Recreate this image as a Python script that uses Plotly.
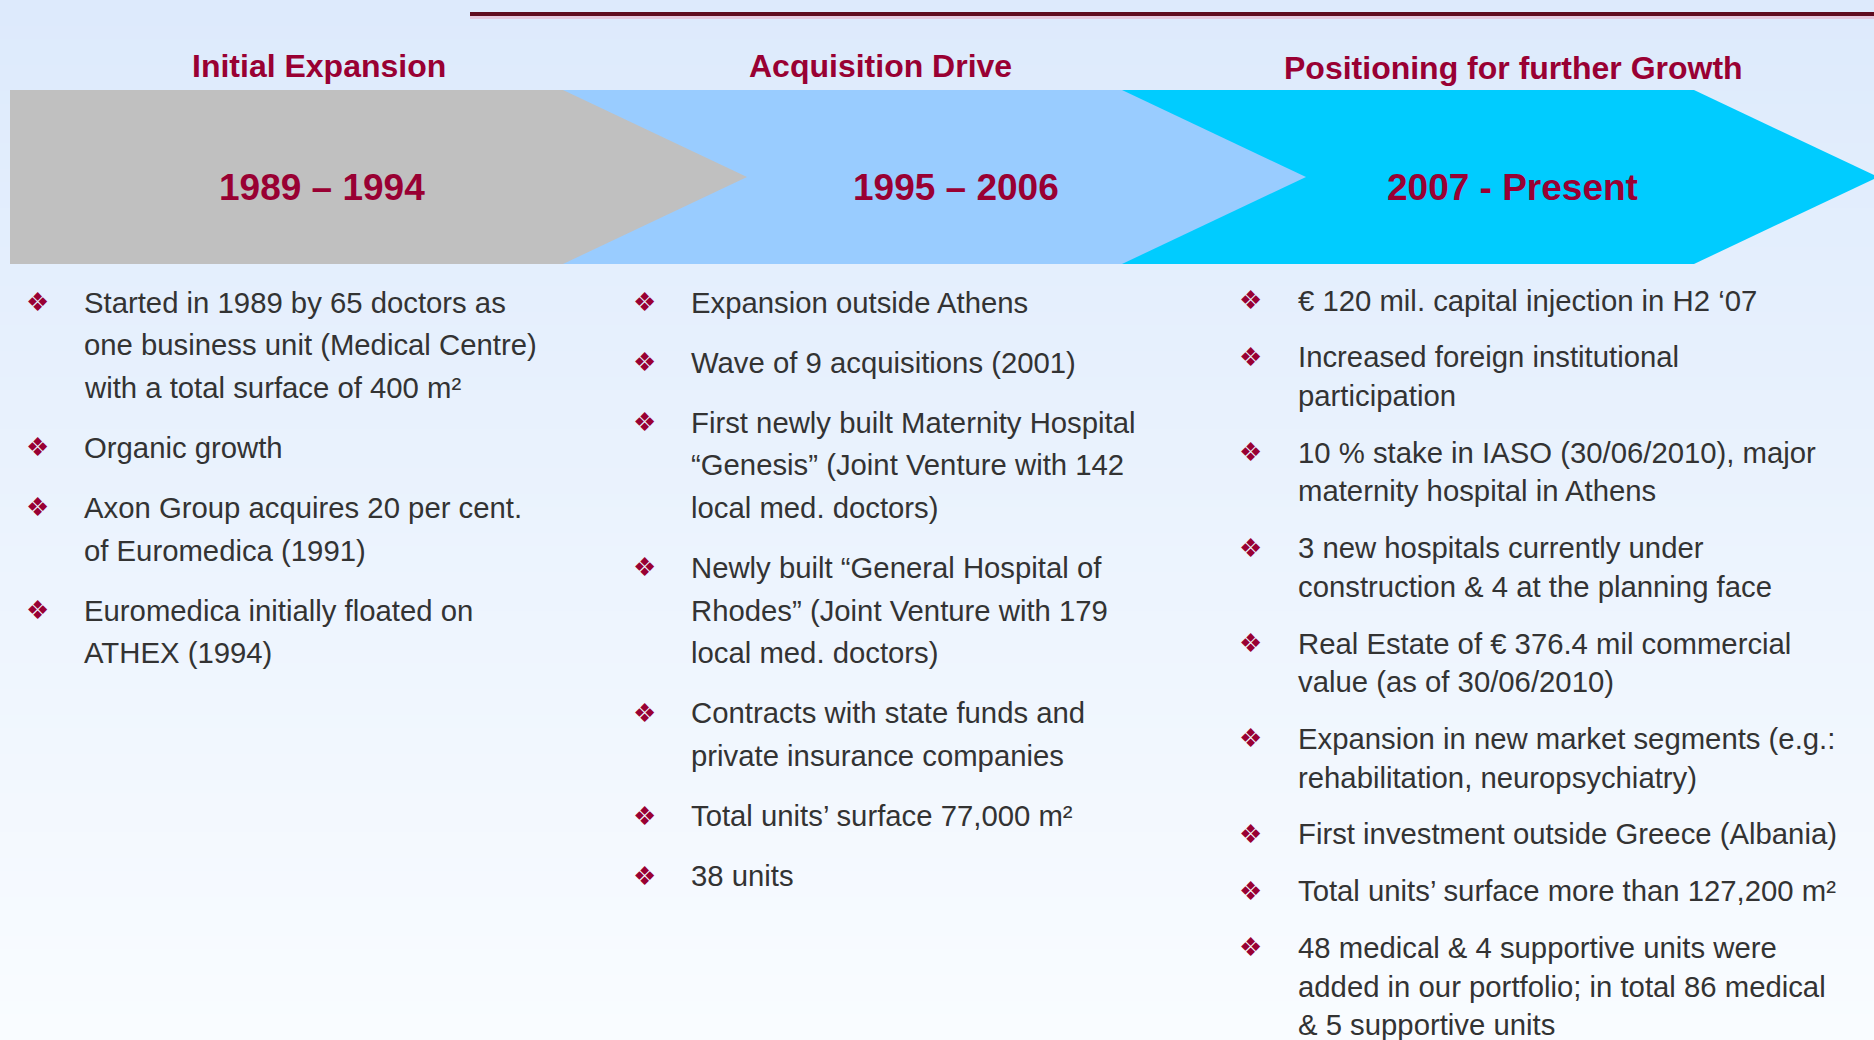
import plotly.graph_objects as go

W, H = 1874, 1040

# ---------------- content ----------------
phase_titles = ["Initial Expansion", "Acquisition Drive", "Positioning for further Growth"]
phase_years = ["1989 – 1994", "1995 – 2006", "2007 - Present"]
phase_colors = ["#C0C0C0", "#99CCFF", "#00CCFF"]

bullets_phase1 = [
    ["Started in 1989 by 65 doctors as", "one business unit (Medical Centre)", "with a total surface of 400 m²"],
    ["Organic growth"],
    ["Axon Group acquires 20 per cent.", "of Euromedica (1991)"],
    ["Euromedica initially floated on", "ATHEX (1994)"],
]
bullets_phase2 = [
    ["Expansion outside Athens"],
    ["Wave of 9 acquisitions (2001)"],
    ["First newly built Maternity Hospital", "“Genesis” (Joint Venture with 142", "local med. doctors)"],
    ["Newly built “General Hospital of", "Rhodes” (Joint Venture with 179", "local med. doctors)"],
    ["Contracts with state funds and", "private insurance companies"],
    ["Total units’ surface 77,000 m²"],
    ["38 units"],
]
bullets_phase3 = [
    ["€ 120 mil. capital injection in H2 ‘07"],
    ["Increased foreign institutional", "participation"],
    ["10 % stake in IASO (30/06/2010), major", "maternity hospital in Athens"],
    ["3 new hospitals currently under", "construction & 4 at the planning face"],
    ["Real Estate of € 376.4 mil commercial", "value (as of 30/06/2010)"],
    ["Expansion in new market segments (e.g.:", "rehabilitation, neuropsychiatry)"],
    ["First investment outside Greece (Albania)"],
    ["Total units’ surface more than 127,200 m²"],
    ["48 medical & 4 supportive units were", "added in our portfolio; in total 86 medical", "& 5 supportive units"],
]
bullet_lists = [bullets_phase1, bullets_phase2, bullets_phase3]

# ---------------- layout constants ----------------
MAROON = "#990033"
TEXT = "#333333"
FONT = "Arial, Liberation Sans, sans-serif"

chev_left = [10, 563, 1122]
chev_right = [563, 1122, 1694]
chev_top, chev_bot, tip = 90, 264, 184
title_x = [319, 880, 1513]
title_y = [66, 66, 68]
year_x = [322, 956, 1512]
year_y = 187

col_bullet_x = [37, 644, 1250]
col_text_x = [82, 689, 1296]
col_first_y = [302, 302, 300]
col_line_gap = [42.7, 42.7, 38.6]
col_para_gap = [60, 60, 56.8]

fig = go.Figure()
shapes = []
annotations = []

# background gradient
n_bands = 80
c0 = (221, 234, 252)
c1 = (249, 252, 255)
for i in range(n_bands):
    t = i / (n_bands - 1)
    c = tuple(int(round(c0[k] + (c1[k] - c0[k]) * t)) for k in range(3))
    y0 = H * i / n_bands
    y1 = H * (i + 1) / n_bands + 1
    shapes.append(dict(type="rect", xref="x", yref="y", x0=0, x1=W, y0=y0, y1=y1,
                       fillcolor="rgb(%d,%d,%d)" % c, line=dict(width=0), layer="below"))

# top rule
shapes.append(dict(type="line", xref="x", yref="y", x0=470, x1=W, y0=17, y1=17,
                   line=dict(color="rgba(235,160,185,0.45)", width=4)))
shapes.append(dict(type="line", xref="x", yref="y", x0=470, x1=W, y0=14, y1=14,
                   line=dict(color="#5E0B1E", width=4)))

# chevrons (draw right-most first so earlier tips overlap)
mid = (chev_top + chev_bot) / 2
for i in reversed(range(3)):
    l, r = chev_left[i], chev_right[i]
    path = "M %f,%f L %f,%f L %f,%f L %f,%f L %f,%f Z" % (
        l, chev_top, r, chev_top, r + tip, mid, r, chev_bot, l, chev_bot)
    shapes.append(dict(type="path", xref="x", yref="y", path=path,
                       fillcolor=phase_colors[i], line=dict(width=0), layer="above"))

# titles and years
for i in range(3):
    annotations.append(dict(x=title_x[i], y=title_y[i], xref="x", yref="y",
                            text="<b>%s</b>" % phase_titles[i], showarrow=False,
                            xanchor="center", yanchor="middle",
                            font=dict(family=FONT, size=32, color=MAROON)))
    annotations.append(dict(x=year_x[i], y=year_y, xref="x", yref="y",
                            text="<b>%s</b>" % phase_years[i], showarrow=False,
                            xanchor="center", yanchor="middle",
                            font=dict(family=FONT, size=37, color=MAROON)))

# bullets
for c, blist in enumerate(bullet_lists):
    y = col_first_y[c]
    for b, lines in enumerate(blist):
        if b > 0:
            y += col_para_gap[c]
        annotations.append(dict(x=col_bullet_x[c], y=y, xref="x", yref="y", text="❖",
                                showarrow=False, xanchor="center", yanchor="middle",
                                font=dict(family="DejaVu Sans", size=26, color=MAROON)))
        for j, line in enumerate(lines):
            if j > 0:
                y += col_line_gap[c]
            annotations.append(dict(x=col_text_x[c], y=y, xref="x", yref="y", text=line,
                                    showarrow=False, xanchor="left", yanchor="middle",
                                    font=dict(family=FONT, size=29.3, color=TEXT)))

fig.update_layout(
    width=W, height=H, margin=dict(l=0, r=0, t=0, b=0),
    paper_bgcolor="#F3F8FF", plot_bgcolor="rgba(0,0,0,0)",
    xaxis=dict(range=[0, W], visible=False, fixedrange=True),
    yaxis=dict(range=[H, 0], visible=False, fixedrange=True),
    shapes=shapes, annotations=annotations, showlegend=False,
)

fig.write_html("out.html", config={"displayModeBar": False},
               post_script="document.body.style.margin='0';document.body.style.overflow='hidden';")
